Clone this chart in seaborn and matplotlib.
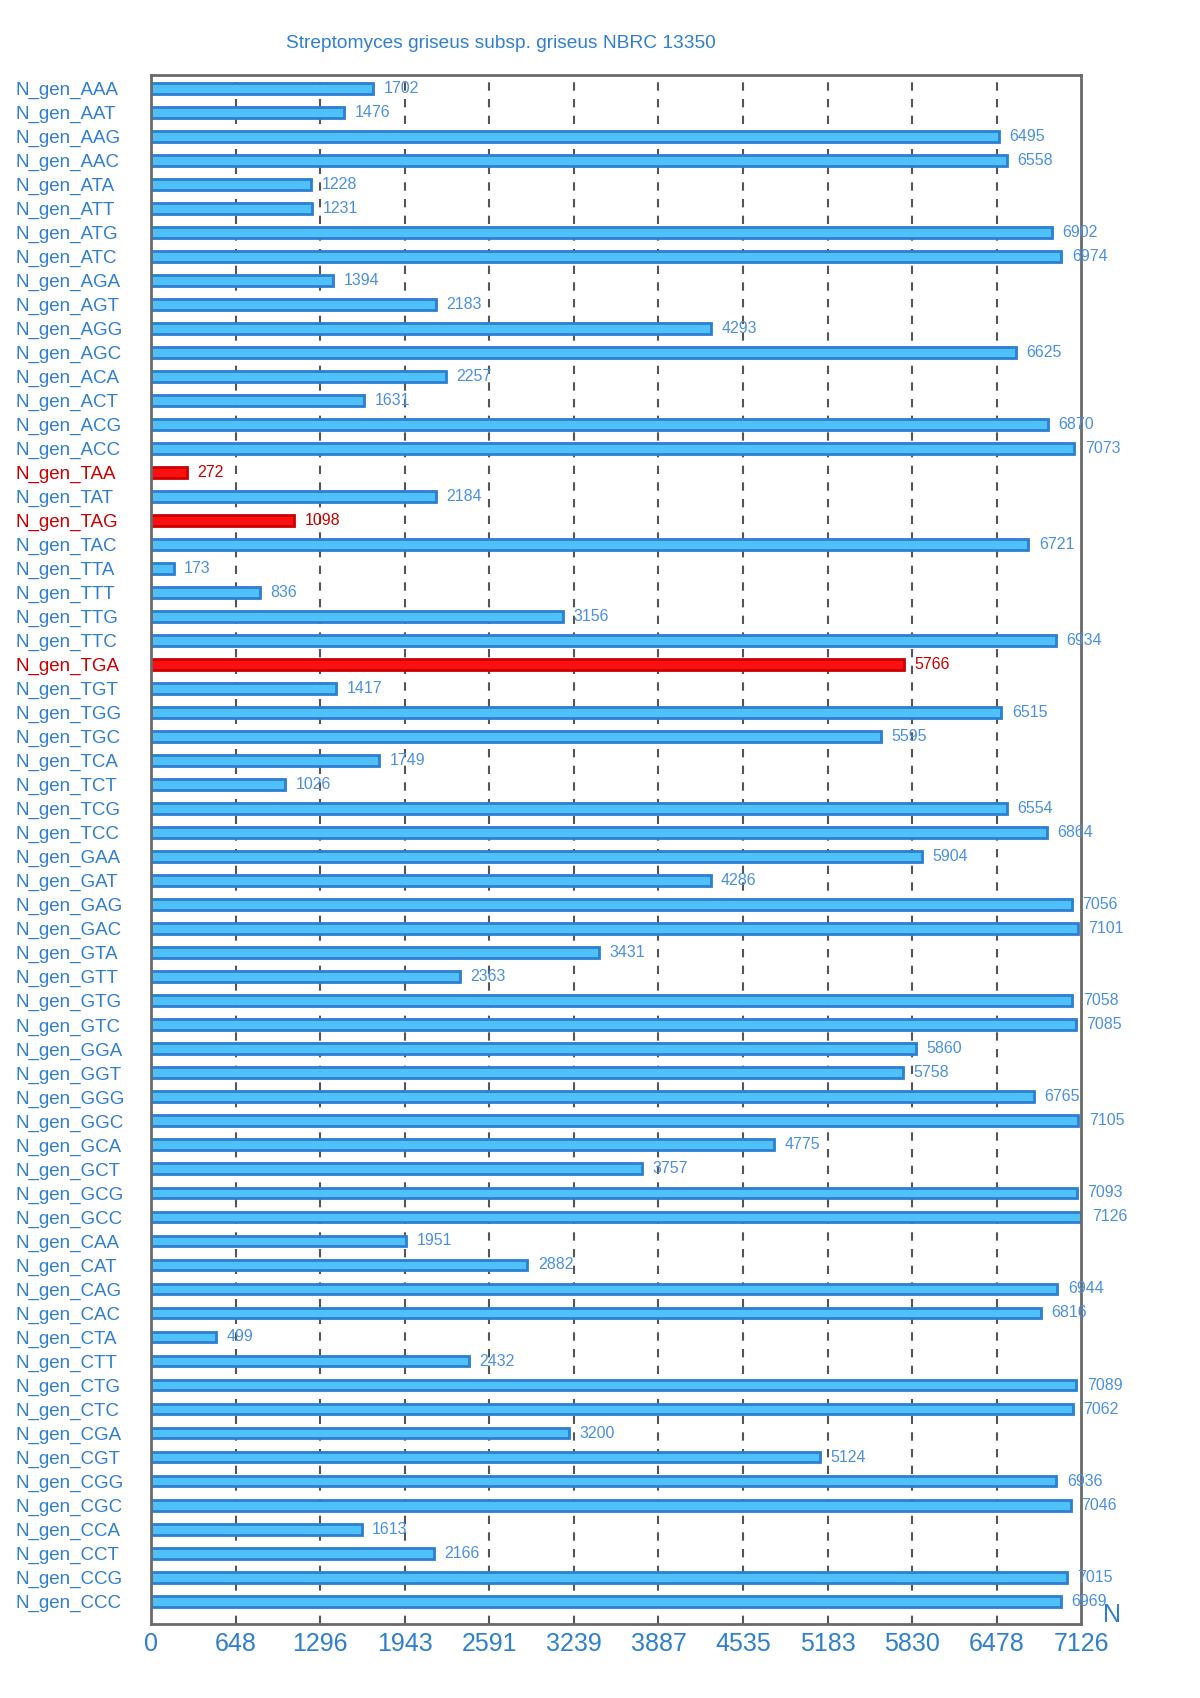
import seaborn as sns
import matplotlib.pyplot as plt
import pandas as pd

codons = ['AAA', 'AAT', 'AAG', 'AAC', 'ATA', 'ATT', 'ATG', 'ATC',
          'AGA', 'AGT', 'AGG', 'AGC', 'ACA', 'ACT', 'ACG', 'ACC',
          'TAA', 'TAT', 'TAG', 'TAC', 'TTA', 'TTT', 'TTG', 'TTC',
          'TGA', 'TGT', 'TGG', 'TGC', 'TCA', 'TCT', 'TCG', 'TCC',
          'GAA', 'GAT', 'GAG', 'GAC', 'GTA', 'GTT', 'GTG', 'GTC',
          'GGA', 'GGT', 'GGG', 'GGC', 'GCA', 'GCT', 'GCG', 'GCC',
          'CAA', 'CAT', 'CAG', 'CAC', 'CTA', 'CTT', 'CTG', 'CTC',
          'CGA', 'CGT', 'CGG', 'CGC', 'CCA', 'CCT', 'CCG', 'CCC']
counts = [1702, 1476, 6495, 6558, 1228, 1231, 6902, 6974,
          1394, 2183, 4293, 6625, 2257, 1631, 6870, 7073,
          272, 2184, 1098, 6721, 173, 836, 3156, 6934,
          5766, 1417, 6515, 5595, 1749, 1026, 6554, 6864,
          5904, 4286, 7056, 7101, 3431, 2363, 7058, 7085,
          5860, 5758, 6765, 7105, 4775, 3757, 7093, 7126,
          1951, 2882, 6944, 6816, 499, 2432, 7089, 7062,
          3200, 5124, 6936, 7046, 1613, 2166, 7015, 6969]
stop_codons = ['TAA', 'TAG', 'TGA']
xticks = [0, 648, 1296, 1943, 2591, 3239, 3887, 4535, 5183, 5830, 6478, 7126]
title = 'Streptomyces griseus subsp. griseus NBRC 13350'

df = pd.DataFrame({'label': ['N_gen_' + c for c in codons], 'n': counts,
                   'stop': [c in stop_codons for c in codons]})

blue_fill, blue_edge, blue_text = '#4FC0F8', '#2A7FD4', '#2F7FD0'
red_fill, red_edge, red_text = '#FF1010', '#CC0000', '#CC0000'

sns.set_style('white')
plt.rcParams['font.family'] = ['Liberation Sans', 'DejaVu Sans']

fig = plt.figure(figsize=(12, 16.98), dpi=100)
ax = fig.add_axes([0.126, 0.0436, 0.775, 0.9122])

pal = {l: (red_fill if s else blue_fill) for l, s in zip(df.label, df.stop)}
sns.barplot(data=df, x='n', y='label', hue='label', palette=pal, legend=False,
            orient='h', width=0.45, saturation=1, ax=ax)

for patch, s in zip(ax.patches, df.stop):
    patch.set_edgecolor(red_edge if s else blue_edge)
    patch.set_linewidth(2)

for i, (v, s) in enumerate(zip(df.n, df.stop)):
    ax.text(v + 80, i, str(v), va='center', ha='left', fontsize=11.5,
            color=red_text if s else '#4A90E2')

ax.set_xlim(0, 7126)
ax.set_ylim(len(df) - 0.05, -0.55)
ax.set_xticks(xticks)
ax.set_xticklabels([str(t) for t in xticks], fontsize=18, color=blue_text)
for t in xticks[1:-1]:
    ax.axvline(t, color='#555555', linestyle=(0, (4, 4)), linewidth=1.5, zorder=0)

ax.tick_params(axis='x', length=0, pad=6)
ax.tick_params(axis='y', length=0, pad=98, labelsize=13.5)
for lab, s in zip(ax.get_yticklabels(), df.stop):
    lab.set_ha('left')
    lab.set_color(red_text if s else blue_text)

ax.set_xlabel('')
ax.set_ylabel('')
for sp in ax.spines.values():
    sp.set_color('#6A6A6A')
    sp.set_linewidth(2)

fig.text(0.927, 0.049, 'N', fontsize=18, color=blue_text, ha='center', va='center')
fig.text(0.417, 0.9745, title, fontsize=13.8, color=blue_text, ha='center', va='center')

fig.savefig('out.png', dpi=100)
